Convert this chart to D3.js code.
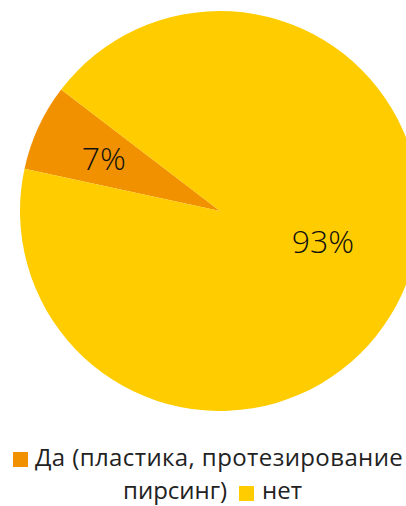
<!DOCTYPE html>
<html>
<head>
<meta charset="utf-8">
<script src="https://cdn.jsdelivr.net/npm/d3@7"></script>
<style>
  html, body { margin: 0; padding: 0; background: #fff; }
  svg { display: block; }
  text { font-family: "Open Sans", "Noto Sans", sans-serif; }
</style>
</head>
<body>
<svg id="chart" width="406" height="506"></svg>
<script>
// Ответы на вопрос: «Да (пластика, протезирование, пирсинг)» / «нет»
const categories = ["Да (пластика, протезирование, пирсинг)", "нет"];
const values = [7, 93];
const valueLabels = ["7%", "93%"];
const colors = ["#F29100", "#FFCC00"];

const svg = d3.select("#chart");
const cx = 220, cy = 211, radius = 200;

const deg = Math.PI / 180;
const pie = d3.pie()
  .sort(null)
  .value(d => d)
  .startAngle(-77.8 * deg)
  .endAngle(282.2 * deg);

const arcs = pie(values);
const arc = d3.arc().innerRadius(0).outerRadius(radius);

const g = svg.append("g").attr("transform", `translate(${cx},${cy})`);

g.selectAll("path.slice")
  .data(arcs)
  .join("path")
  .attr("class", "slice")
  .attr("d", arc)
  .attr("fill", (d, i) => colors[i]);

// Подписи процентов: маленький сектор — ближе к краю, большой — правее центра
const labelArcs = [
  d3.arc().innerRadius(radius * 0.64).outerRadius(radius * 0.64),
  null
];
const labelXY = (d, i) => i === 0
  ? labelArcs[0].centroid(d)
  : [radius * 0.515, radius * 0.145];

g.selectAll("text.val")
  .data(arcs)
  .join("text")
  .attr("class", "val")
  .attr("x", (d, i) => labelXY(d, i)[0])
  .attr("y", (d, i) => labelXY(d, i)[1])
  .attr("text-anchor", "middle")
  .attr("dominant-baseline", "central")
  .attr("font-size", 32)
  .attr("font-weight", 300)
  .attr("fill", "#111")
  .text((d, i) => valueLabels[i]);

// Легенда в две строки
const legend = svg.append("g").attr("font-size", 24).attr("fill", "#222");

legend.append("rect")
  .attr("x", 13).attr("y", 452).attr("width", 15).attr("height", 15)
  .attr("fill", colors[0]);
legend.append("text")
  .attr("x", 35).attr("y", 466)
  .attr("letter-spacing", 0.4)
  .text("Да (пластика, протезирование");

legend.append("text")
  .attr("x", 123).attr("y", 499)
  .text("пирсинг)");
legend.append("rect")
  .attr("x", 239).attr("y", 486).attr("width", 15).attr("height", 15)
  .attr("fill", colors[1]);
legend.append("text")
  .attr("x", 262).attr("y", 499)
  .text(categories[1]);
</script>
</body>
</html>
